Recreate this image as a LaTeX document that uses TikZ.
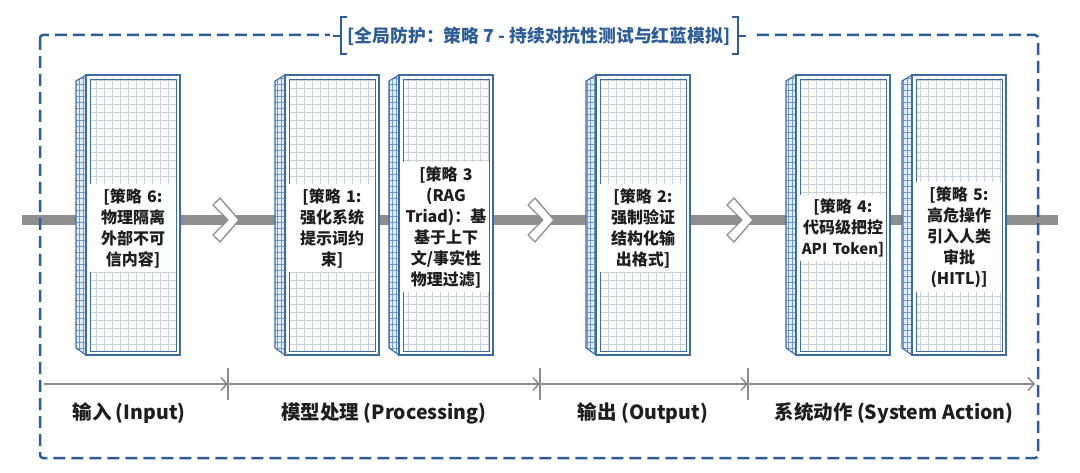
\documentclass[tikz,border=0pt]{standalone}
\usepackage{fontspec}
\setmainfont{Noto Sans CJK SC}
\usetikzlibrary{arrows.meta}
\definecolor{frameblue}{HTML}{2E5D96}
\definecolor{panelblue}{HTML}{3D6BA8}
\definecolor{gridgray}{HTML}{C9D0DA}
\definecolor{sideblue}{HTML}{E2EEF9}
\definecolor{sidegrid}{HTML}{6F97C8}
\definecolor{bandgray}{HTML}{8E8E8E}
\definecolor{axisgray}{HTML}{8C8C8C}
\definecolor{textdark}{HTML}{1E1E1E}
\tikzset{
  stext/.style={font=\bfseries\fontsize{16}{21}\selectfont, text=textdark, fill=white,
    text width=86pt, align=center, inner xsep=0pt, inner ysep=4pt},
  axislabel/.style={font=\bfseries\fontsize{19.5}{22}\selectfont, text=textdark},
  axisline/.style={axisgray, line width=1.5pt, -{Straight Barb[length=6pt,width=13pt,line width=1.5pt]}},
  ticklines/.style={axisgray, line width=1.5pt},
  chevronshape/.style={bandgray, line width=1.3pt, fill=white, line join=round},
  framedash/.style={frameblue, line width=2.5pt, dash pattern=on 12pt off 6pt, rounded corners=3pt},
  bracketline/.style={frameblue, line width=2.5pt},
}
\newcommand\strat[4]{%
  \fill[sideblue] (#1-10,-81) -- (#1,-75) -- (#1,-355) -- (#1-10,-348) -- cycle;
  \begin{scope}
    \clip (#1-10,-81) -- (#1,-75) -- (#1,-355) -- (#1-10,-348) -- cycle;
    \draw[sidegrid, line width=0.35pt, xstep=3.6, ystep=6] (#1-12,-360) grid (#1,-70);
  \end{scope}
  \draw[panelblue, line width=1.1pt, line join=round] (#1-10,-81) -- (#1,-75) -- (#1,-355) -- (#1-10,-348) -- cycle;
  \fill[white] (#1,-75) rectangle (#1+94,-355);
  \begin{scope}
    \clip (#1+4,-79) rectangle (#1+90,-351);
    \draw[gridgray, line width=0.5pt, step=8] (#1,-360) grid (#1+94,-70);
  \end{scope}
  \draw[panelblue, line width=1.1pt] (#1,-75) rectangle (#1+94,-355);
  \draw[panelblue, line width=0.9pt] (#1+4,-79) rectangle (#1+90,-351);
  \node[stext] (#2) at (#1+47,#4) {#3};
}
\newcommand\chev[2]{%
  \draw[chevronshape] (#1,-205) -- (#1+7,-198) -- (#1+26,-220) -- (#1+7,-242) -- (#1,-235) -- (#1+15,-220) -- cycle;
  \coordinate (#2) at (#1+13,-220);
}
\begin{document}
\begin{tikzpicture}[x=1pt,y=1pt]
\useasboundingbox (0,0) rectangle (1080,-473);
\fill[white] (0,0) rectangle (1080,-473);
% central band
\coordinate (bandL) at (22,-220);
\coordinate (bandR) at (1058,-220);
\draw[bandgray, line width=10pt] (bandL) -- (bandR);
% chevrons
\chev{213}{c1}
\chev{528}{c2}
\chev{727}{c3}
% strategy panels
\strat{86}{s6}{[策略 6:\\物理隔离\\外部不可\\信内容]}{-228}
\strat{285}{s1}{[策略 1:\\强化系统\\提示词约\\束]}{-228}
\strat{399}{s3}{[策略 3\\(RAG\\Triad)：基\\基于上下\\文/事实性\\物理过滤]}{-227}
\strat{596}{s2}{[策略 2:\\强制验证\\结构化输\\出格式]}{-228}
\strat{796}{s4}{[策略 4:\\代码级把控\\\makebox[0pt]{\fontsize{15}{21}\selectfont API Token]}}{-228}
\strat{912}{s5}{[策略 5:\\高危操作\\引入人类\\审批\\(HITL)]}{-237}
% dashed frame
\draw[framedash] (40,-35) rectangle (1038,-458);
% title
\fill[white] (330,-20) rectangle (752,-52);
\node[font=\bfseries\fontsize{17.8}{20}\selectfont, text=frameblue] (title) at (539,-36) {[全局防护：策略 7 - 持续对抗性测试与红蓝模拟]};
\draw[bracketline] (347,-17) -- (341,-17) -- (341,-54) -- (347,-54);
\draw[bracketline] (333,-36) -- (341,-36);
\draw[bracketline] (732,-17) -- (738,-17) -- (738,-54) -- (732,-54);
\draw[bracketline] (738,-36) -- (746,-36);
% axis
\coordinate (a0) at (44,-384);
\coordinate (a1) at (228,-384);
\coordinate (a2) at (540,-384);
\coordinate (a3) at (748,-384);
\coordinate (a4) at (1035,-384);
\draw[axisline] (a0) -- (a1);
\draw[axisline] (a1) -- (a2);
\draw[axisline] (a2) -- (a3);
\draw[axisline] (a3) -- (a4);
\foreach \p in {a1,a2,a3} \draw[ticklines] ([yshift=16pt]\p) -- ([yshift=-16pt]\p);
\node[axislabel] (l1) at (129,-413) {输入 (Input)};
\node[axislabel] (l2) at (384,-413) {模型处理 (Processing)};
\node[axislabel] (l3) at (643,-413) {输出 (Output)};
\node[axislabel] (l4) at (894,-413) {系统动作 (System Action)};
\end{tikzpicture}
\end{document}
